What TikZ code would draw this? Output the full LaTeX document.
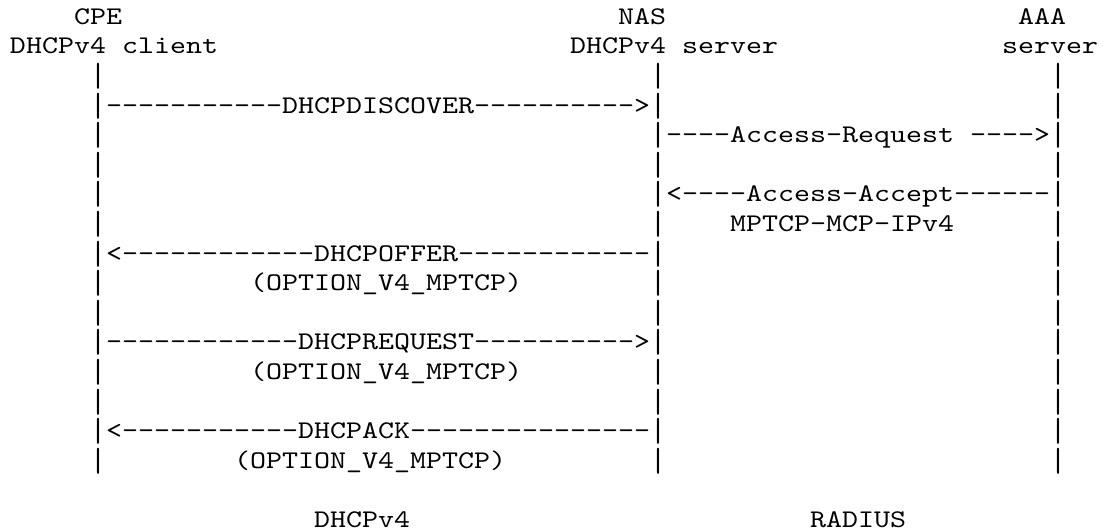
\documentclass[tikz,border=0pt]{standalone}
\usepackage{fontspec}
\newfontfamily\asciifont[FakeStretch=1.2]{lmmono10-regular.otf}
% a full-height bar glyph, as in the monospace drawing
\newcommand\lifebar{\raisebox{-2.9pt}{\resizebox*{\width}{13pt}{\raisebox{\depth}{|}}}}
\begin{document}
\begin{tikzpicture}[x=8pt, y=-14.8pt,
  every node/.style={inner sep=0pt, outer sep=0pt, anchor=base west,
    font=\asciifont\fontsize{12.7}{14.8}\selectfont}
]

\useasboundingbox (-0.625,-0.061) rectangle (68.5,17.88);

% hosts
\node (cpe) at (4,0.76) {CPE};
\node (nas) at (38,0.76) {NAS};
\node (aaa) at (63,0.76) {AAA};
\node (client) at (0,1.76) {DHCPv4 client};
\node (server) at (35,1.76) {DHCPv4 server};
\node (aaasrv) at (62,1.76) {server};

% life lines
\foreach \r in {2,5,7,9,10,12,13,15}
  \foreach \c in {5,40,65}
    \node (pipe\r-\c) at (\c,\r+0.76) {\lifebar};
\foreach \r in {3,8,11,14}
  \node (pipe\r-65) at (65,\r+0.76) {\lifebar};
\foreach \r in {4,6}
  \node (pipe\r-5) at (5,\r+0.76) {\lifebar};

% messages
\node (discover) at (5,3.76) {\lifebar-----------DHCPDISCOVER---------->\lifebar};
\node (accreq) at (40,4.76) {\lifebar----Access-Request ---->\lifebar};
\node (accacc) at (40,6.76) {\lifebar<----Access-Accept------\lifebar};
\node (mcp) at (45,7.76) {MPTCP-MCP-IPv4};
\node (offer) at (5,8.76) {\lifebar<------------DHCPOFFER------------\lifebar};
\node (optoffer) at (15,9.76) {(OPTION\_V4\_MPTCP)};
\node (request) at (5,11.76) {\lifebar------------DHCPREQUEST---------->\lifebar};
\node (optreq) at (15,12.76) {(OPTION\_V4\_MPTCP)};
\node (ack) at (5,14.76) {\lifebar<-----------DHCPACK---------------\lifebar};
\node (optack) at (14,15.76) {(OPTION\_V4\_MPTCP)};

% protocols
\node (dhcp) at (19,17.76) {DHCPv4};
\node (radius) at (50,17.76) {RADIUS};
\end{tikzpicture}
\end{document}
